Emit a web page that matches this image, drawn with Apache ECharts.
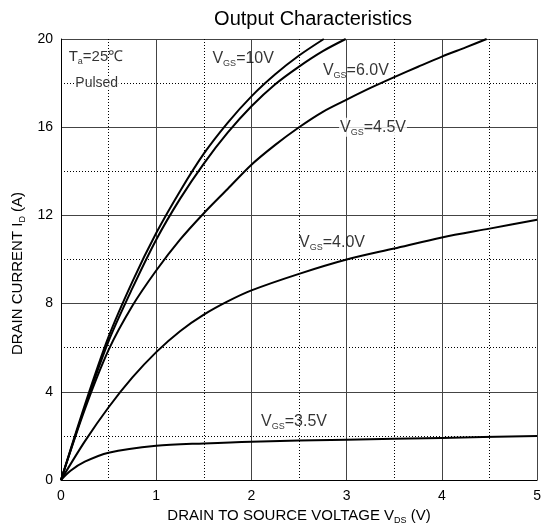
<!DOCTYPE html>
<html>
<head>
<meta charset="utf-8">
<script src="https://cdn.jsdelivr.net/npm/echarts@6/dist/echarts.min.js"></script>
<style>
  html, body { margin: 0; padding: 0; background: #fff; }
  #chart { width: 544px; height: 532px; }
</style>
</head>
<body>
<div id="chart"></div>
<script>
// curves, [V_DS, I_D]
const vgs10 = [[0, 0], [0.25, 3.4], [0.5, 6.5], [0.75, 9.0], [1.0, 11.2], [1.25, 13.1], [1.5, 14.8], [1.75, 16.2], [2.0, 17.4], [2.25, 18.4], [2.5, 19.25], [2.76, 20]];
const vgs60 = [[0, 0], [0.25, 3.3], [0.5, 6.3], [0.75, 8.7], [1.0, 10.9], [1.25, 12.75], [1.5, 14.35], [1.75, 15.75], [2.0, 16.95], [2.25, 17.95], [2.5, 18.75], [2.75, 19.45], [2.99, 20]];
const vgs45 = [[0, 0], [0.25, 3.2], [0.5, 5.9], [0.75, 7.9], [1.0, 9.5], [1.25, 10.9], [1.5, 12.1], [1.75, 13.2], [2.0, 14.3], [2.25, 15.2], [2.5, 16.0], [2.75, 16.7], [3.0, 17.25], [3.25, 17.78], [3.5, 18.27], [3.75, 18.74], [4.0, 19.2], [4.25, 19.62], [4.47, 20]];
const vgs40 = [[0, 0], [0.25, 1.75], [0.5, 3.3], [0.75, 4.65], [1.0, 5.8], [1.25, 6.75], [1.5, 7.5], [1.75, 8.1], [2.0, 8.6], [2.5, 9.35], [3.0, 10.0], [3.5, 10.5], [4.0, 11.0], [4.5, 11.4], [5.0, 11.8]];
const vgs35 = [[0, 0], [0.1, 0.42], [0.25, 0.83], [0.5, 1.24], [1.0, 1.55], [1.5, 1.66], [2.0, 1.74], [3.0, 1.83], [4.0, 1.91], [5.0, 2.0]];

// annotation anchors (left edge, vertical middle) and texts
const notes = [
  { at: [0.07, 19.2], text: '{t|T}{ts|a}{t|=25℃}' },
  { at: [0.14, 18.0], text: '{p|Pulsed}', bg: true },
  { at: [1.58, 19.1], text: '{m|V}{s|GS}{m|=10V}' },
  { at: [2.74, 18.55], text: '{m|V}{s|GS}{m|=6.0V}' },
  { at: [2.92, 16.0], text: '{m|V}{s|GS}{m|=4.5V}', bg: true },
  { at: [2.49, 10.77], text: '{m|V}{s|GS}{m|=4.0V}' },
  { at: [2.09, 2.67], text: '{m|V}{s|GS}{m|=3.5V}' },
];

const font = 'Liberation Sans, Arial, sans-serif';
const rich = {
  m: { fontSize: 16, color: '#000', fontFamily: font },
  s: { fontSize: 9, color: '#000', fontFamily: font, padding: [10, 0, 0, 0] },
  t: { fontSize: 15, color: '#000', fontFamily: font },
  ts: { fontSize: 9, color: '#000', fontFamily: font, padding: [10, 0, 0, 0] },
  p: { fontSize: 14, color: '#000', fontFamily: font },
};
const nameRich = {
  n: { fontSize: 15, color: '#000', fontFamily: font },
  s: { fontSize: 9, color: '#000', fontFamily: font, padding: [9, 0, 0, 0] },
};

const chart = echarts.init(document.getElementById('chart'));

const curve = (data) => ({
  type: 'line',
  data: data,
  smooth: 0.3,
  showSymbol: false,
  lineStyle: { color: '#000', width: 2 },
  z: 3,
});

chart.setOption({
  animation: false,
  title: {
    text: 'Output Characteristics',
    left: 308,
    textAlign: 'center',
    top: 4,
    textStyle: { fontSize: 20, fontWeight: 'normal', color: '#000', fontFamily: font },
  },
  grid: { left: 61, right: 5, top: 39, bottom: 52 },
  xAxis: {
    type: 'value',
    min: 0,
    max: 5,
    interval: 1,
    name: '{n|DRAIN TO SOURCE VOLTAGE V}{s|DS}{n| (V)}',
    nameLocation: 'middle',
    nameGap: 27,
    nameTextStyle: { rich: nameRich },
    axisLine: { lineStyle: { color: '#000', width: 1 } },
    axisTick: { show: false },
    axisLabel: { fontSize: 14, color: '#000', fontFamily: font, margin: 9 },
    splitLine: { lineStyle: { color: '#444', width: 1 } },
    minorTick: { show: false, splitNumber: 2 },
    minorSplitLine: { show: true, lineStyle: { color: '#000', type: [1, 2], width: 1 } },
  },
  yAxis: {
    type: 'value',
    min: 0,
    max: 20,
    interval: 4,
    name: '{n|DRAIN CURRENT I}{s|D}{n| (A)}',
    nameLocation: 'middle',
    nameGap: 30,
    nameTextStyle: { rich: nameRich, padding: [0, 28, 0, 0] },
    axisLine: { show: true, lineStyle: { color: '#000', width: 1 } },
    axisTick: { show: false },
    axisLabel: { fontSize: 14, color: '#000', fontFamily: font, margin: 8 },
    splitLine: { lineStyle: { color: '#444', width: 1 } },
    minorTick: { show: false, splitNumber: 2 },
    minorSplitLine: { show: true, lineStyle: { color: '#000', type: [1, 2], width: 1 } },
  },
  series: [
    curve(vgs10),
    curve(vgs60),
    curve(vgs45),
    curve(vgs40),
    curve(vgs35),
    {
      type: 'scatter',
      symbolSize: 0,
      silent: true,
      z: 5,
      data: notes.map(n => ({
        value: n.at,
        label: {
          show: true,
          position: 'right',
          distance: 0,
          formatter: n.text,
          rich: rich,
          backgroundColor: n.bg ? '#fff' : 'transparent',
          padding: [0, 1],
        },
      })),
    },
  ],
});
</script>
</body>
</html>
